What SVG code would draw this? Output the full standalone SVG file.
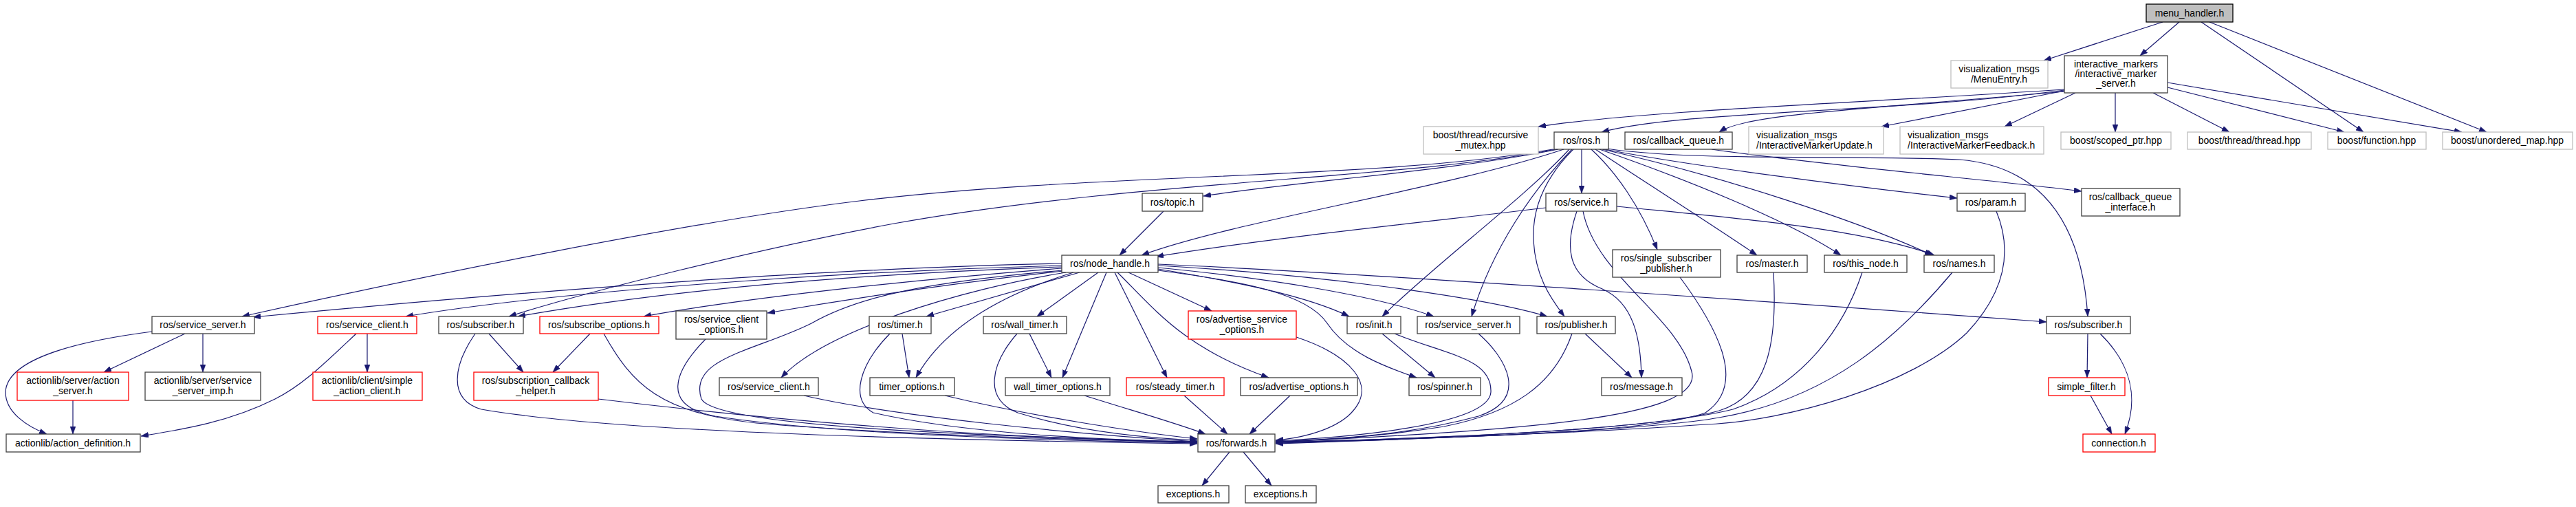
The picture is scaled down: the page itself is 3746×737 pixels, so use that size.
<svg xmlns="http://www.w3.org/2000/svg" width="3746" height="737" viewBox="0 0 3746 737">
<style>
text{font-family:"Liberation Sans",Arial,sans-serif;font-size:14px;fill:#000;text-anchor:middle}
text.l{text-anchor:start}
rect{fill:#fff;stroke-width:1.3}
.k rect{stroke:#404040}
.g rect{stroke:#bfbfbf}
.r rect{stroke:#ff0000}
.root rect{fill:#bfbfbf;stroke:#000}
#edges path{fill:none;stroke:#191970;stroke-width:1.2;marker-end:url(#ah)}
</style>
<defs>
<marker id="ah" viewBox="0 0 11 8" refX="11" refY="4" markerWidth="11" markerHeight="8" orient="auto" markerUnits="userSpaceOnUse"><path d="M0,0L11,4L0,8z" fill="#191970" stroke="#191970" stroke-width="0.5"/></marker>
</defs>
<rect x="0" y="0" width="3746" height="737" style="fill:#fff;stroke:none"/>
<g id="edges">
<path d="M3145,32 L2972,88"/>
<path d="M3169,32 L3112,81"/>
<path d="M3201,32 L3437,192"/>
<path d="M3213,32 L3616,192"/>
<path d="M3131,135 L3242,192"/>
<path d="M3152,127 L3409,192"/>
<path d="M3152,120 L3580,192"/>
<path d="M3076,135 L3076,192"/>
<path d="M3018,135 L2915,184"/>
<path d="M3002,132 L2736,184"/>
<path d="M3002,131 C2750,165 2450,160 2329,192"/>
<path d="M3002,130 C2700,150 2400,160 2237,184"/>
<path d="M3002,133 C2700,160 2540,165 2500,192"/>
<path d="M2489,217 C2650,240 2900,262 3027,278"/>
<path d="M2300,217 L2300,281"/>
<path d="M2266,217 C2100,250 1900,262 1750,285"/>
<path d="M2274,217 C2100,275 1800,320 1660,371"/>
<path d="M2258,217 C2000,262 1600,250 1250,292 C1000,322 600,405 352,460"/>
<path d="M2262,217 C2050,260 1650,262 1300,325 C1100,362 850,425 740,460"/>
<path d="M2282,217 C2220,285 2080,390 2010,460"/>
<path d="M2286,217 C2230,275 2170,360 2140,460"/>
<path d="M2288,217 C2240,265 2228,310 2230,350 C2233,400 2252,430 2275,460"/>
<path d="M2314,217 C2350,250 2385,300 2410,363"/>
<path d="M2320,217 C2400,270 2480,320 2555,371"/>
<path d="M2326,217 C2450,260 2600,320 2677,371"/>
<path d="M2330,217 C2500,255 2700,320 2810,371"/>
<path d="M2334,217 C2450,240 2700,272 2846,288"/>
<path d="M2330,215 C2450,235 2700,225 2850,232 C3000,245 3030,370 3036,460"/>
<path d="M2248,302 C2100,320 1850,345 1681,373"/>
<path d="M2351,300 C2500,315 2700,330 2813,371"/>
<path d="M2293,307 C2275,360 2280,400 2330,420 C2375,440 2386,490 2387,549"/>
<path d="M2302,307 C2320,400 2440,460 2460,540 C2480,610 2200,625 1855,643"/>
<path d="M1692,307 L1628,371"/>
<path d="M2443,403 C2500,480 2540,560 2480,600 C2400,630 2100,637 1855,643"/>
<path d="M2579,396 C2585,500 2570,575 2500,597 C2400,625 2100,637 1855,643"/>
<path d="M2708,396 C2680,480 2620,560 2520,595 C2400,625 2100,637 1855,643"/>
<path d="M2839,396 C2760,490 2660,580 2500,607 C2400,625 2100,638 1855,644"/>
<path d="M2903,307 C2925,360 2920,420 2860,484 C2780,560 2600,612 2480,617 C2300,630 2000,640 1855,645"/>
<path d="M2010,485 L2087,549"/>
<path d="M2028,485 C2100,515 2170,520 2168,570 C2165,620 1950,636 1855,641"/>
<path d="M2150,485 C2190,520 2225,580 2150,605 C2050,632 1950,638 1855,642"/>
<path d="M2286,485 C2260,560 2200,600 2100,620 C2000,636 1900,641 1855,642"/>
<path d="M2305,485 L2373,549"/>
<path d="M1885,490 C1960,515 2010,560 1960,605 C1930,630 1880,638 1855,640"/>
<path d="M1570,396 L1347,460"/>
<path d="M1561,396 C1450,430 1370,480 1332,549"/>
<path d="M1597,396 L1508,460"/>
<path d="M1609,396 L1545,549"/>
<path d="M1621,396 L1697,549"/>
<path d="M1625,396 C1680,450 1720,505 1845,549"/>
<path d="M1641,396 L1762,452"/>
<path d="M1684,391 C1800,410 1900,430 1962,460"/>
<path d="M1684,389 C1850,405 2000,430 2085,460"/>
<path d="M1684,386 C1900,398 2150,430 2250,460"/>
<path d="M1684,393 C1800,408 1900,425 1930,470 C1960,515 2020,535 2060,549"/>
<path d="M1684,384 C2000,398 2600,440 2976,468"/>
<path d="M1544,383 C1200,390 800,420 368,461"/>
<path d="M1544,386 C1200,395 800,425 590,460"/>
<path d="M1544,388 C1200,400 950,425 753,460"/>
<path d="M1544,390 C1350,405 1100,430 936,460"/>
<path d="M1546,394 C1400,410 1250,432 1116,455"/>
<path d="M1550,396 C1400,420 1200,480 1136,549"/>
<path d="M1545,393 C1350,410 1250,430 1180,470 C1100,510 1000,520 1020,580 C1040,620 1400,632 1741,643"/>
<path d="M691,485 C660,530 650,580 700,595 C900,630 1400,640 1741,645"/>
<path d="M711,485 L761,541"/>
<path d="M858,485 L804,541"/>
<path d="M878,485 C920,560 960,600 1100,615 C1300,632 1600,640 1741,643"/>
<path d="M870,580 C1200,620 1500,638 1741,643"/>
<path d="M1026,493 C980,540 960,590 1040,605 C1200,630 1500,640 1741,644"/>
<path d="M1169,575 C1300,605 1550,630 1741,642"/>
<path d="M1312,485 L1322,549"/>
<path d="M1294,485 C1250,530 1235,580 1270,600 C1400,630 1600,640 1741,642"/>
<path d="M1497,485 L1529,549"/>
<path d="M1479,485 C1440,530 1430,580 1480,600 C1560,625 1650,636 1741,640"/>
<path d="M1374,575 C1500,605 1650,628 1741,638"/>
<path d="M1577,575 C1650,598 1710,615 1753,631"/>
<path d="M1722,575 L1785,631"/>
<path d="M1876,575 L1817,631"/>
<path d="M1788,657 L1748,706"/>
<path d="M1808,657 L1849,706"/>
<path d="M269,485 L151,541"/>
<path d="M295,485 L295,541"/>
<path d="M221,482 C120,495 10,520 8,570 C8,600 40,620 68,631"/>
<path d="M518,485 C470,530 440,560 400,580 C330,615 260,625 205,634"/>
<path d="M534,485 L534,541"/>
<path d="M106,582 L106,631"/>
<path d="M3036,485 L3035,549"/>
<path d="M3054,485 C3100,530 3110,580 3090,631"/>
<path d="M3040,575 L3071,631"/>
</g>
<g id="n0" class="root"><rect x="3121" y="6" width="126" height="26"/><text x="3184" y="24">menu_handler.h</text></g>
<g id="n1" class="k"><rect x="3002" y="81" width="150" height="54"/><text x="3077" y="98">interactive_markers</text><text x="3077" y="112">/interactive_marker</text><text x="3077" y="126">_server.h</text></g>
<g id="n2" class="g"><rect x="2837" y="88" width="141" height="40"/><text x="2907" y="105">visualization_msgs</text><text x="2907" y="120">/MenuEntry.h</text></g>
<g id="n3" class="g"><rect x="2070" y="184" width="167" height="40"/><text x="2153" y="201">boost/thread/recursive</text><text x="2153" y="216">_mutex.hpp</text></g>
<g id="n4" class="k"><rect x="2260" y="192" width="79" height="25"/><text x="2300" y="209">ros/ros.h</text></g>
<g id="n5" class="k"><rect x="2363" y="192" width="156" height="25"/><text x="2441" y="209">ros/callback_queue.h</text></g>
<g id="n6" class="g"><rect x="2543" y="184" width="196" height="40"/><text class="l" x="2554" y="201">visualization_msgs</text><text class="l" x="2554" y="216">/InteractiveMarkerUpdate.h</text></g>
<g id="n7" class="g"><rect x="2763" y="184" width="209" height="40"/><text class="l" x="2774" y="201">visualization_msgs</text><text class="l" x="2774" y="216">/InteractiveMarkerFeedback.h</text></g>
<g id="n8" class="g"><rect x="2997" y="192" width="160" height="25"/><text x="3077" y="209">boost/scoped_ptr.hpp</text></g>
<g id="n9" class="g"><rect x="3181" y="192" width="180" height="25"/><text x="3271" y="209">boost/thread/thread.hpp</text></g>
<g id="n10" class="g"><rect x="3385" y="192" width="143" height="25"/><text x="3456" y="209">boost/function.hpp</text></g>
<g id="n11" class="g"><rect x="3552" y="192" width="189" height="25"/><text x="3646" y="209">boost/unordered_map.hpp</text></g>
<g id="n12" class="k"><rect x="1661" y="281" width="88" height="26"/><text x="1705" y="299">ros/topic.h</text></g>
<g id="n13" class="k"><rect x="2248" y="281" width="103" height="26"/><text x="2300" y="299">ros/service.h</text></g>
<g id="n14" class="k"><rect x="2846" y="281" width="99" height="26"/><text x="2895" y="299">ros/param.h</text></g>
<g id="n15" class="k"><rect x="3027" y="274" width="143" height="40"/><text x="3098" y="291">ros/callback_queue</text><text x="3098" y="306">_interface.h</text></g>
<g id="n16" class="k"><rect x="1544" y="371" width="140" height="25"/><text x="1614" y="388">ros/node_handle.h</text></g>
<g id="n17" class="k"><rect x="2345" y="363" width="157" height="40"/><text x="2423" y="380">ros/single_subscriber</text><text x="2423" y="395">_publisher.h</text></g>
<g id="n18" class="k"><rect x="2526" y="371" width="102" height="25"/><text x="2577" y="388">ros/master.h</text></g>
<g id="n19" class="k"><rect x="2653" y="371" width="120" height="25"/><text x="2713" y="388">ros/this_node.h</text></g>
<g id="n20" class="k"><rect x="2798" y="371" width="102" height="25"/><text x="2849" y="388">ros/names.h</text></g>
<g id="n21" class="k"><rect x="221" y="460" width="149" height="25"/><text x="295" y="477">ros/service_server.h</text></g>
<g id="n22" class="r"><rect x="462" y="460" width="144" height="25"/><text x="534" y="477">ros/service_client.h</text></g>
<g id="n23" class="k"><rect x="638" y="460" width="123" height="25"/><text x="699" y="477">ros/subscriber.h</text></g>
<g id="n24" class="r"><rect x="785" y="460" width="173" height="25"/><text x="871" y="477">ros/subscribe_options.h</text></g>
<g id="n25" class="k"><rect x="983" y="452" width="132" height="41"/><text x="1049" y="469">ros/service_client</text><text x="1049" y="484">_options.h</text></g>
<g id="n26" class="k"><rect x="1264" y="460" width="90" height="25"/><text x="1309" y="477">ros/timer.h</text></g>
<g id="n27" class="k"><rect x="1430" y="460" width="121" height="25"/><text x="1490" y="477">ros/wall_timer.h</text></g>
<g id="n28" class="r"><rect x="1728" y="452" width="157" height="41"/><text x="1806" y="469">ros/advertise_service</text><text x="1806" y="484">_options.h</text></g>
<g id="n29" class="k"><rect x="1959" y="460" width="78" height="25"/><text x="1998" y="477">ros/init.h</text></g>
<g id="n30" class="k"><rect x="2061" y="460" width="149" height="25"/><text x="2135" y="477">ros/service_server.h</text></g>
<g id="n31" class="k"><rect x="2235" y="460" width="114" height="25"/><text x="2292" y="477">ros/publisher.h</text></g>
<g id="n32" class="k"><rect x="2976" y="460" width="122" height="25"/><text x="3037" y="477">ros/subscriber.h</text></g>
<g id="n33" class="r"><rect x="25" y="541" width="162" height="41"/><text x="106" y="558">actionlib/server/action</text><text x="106" y="573">_server.h</text></g>
<g id="n34" class="k"><rect x="211" y="541" width="168" height="41"/><text x="295" y="558">actionlib/server/service</text><text x="295" y="573">_server_imp.h</text></g>
<g id="n35" class="r"><rect x="455" y="541" width="159" height="41"/><text x="534" y="558">actionlib/client/simple</text><text x="534" y="573">_action_client.h</text></g>
<g id="n36" class="r"><rect x="689" y="541" width="181" height="41"/><text x="779" y="558">ros/subscription_callback</text><text x="779" y="573">_helper.h</text></g>
<g id="n37" class="k"><rect x="1046" y="549" width="144" height="26"/><text x="1118" y="567">ros/service_client.h</text></g>
<g id="n38" class="k"><rect x="1265" y="549" width="123" height="26"/><text x="1326" y="567">timer_options.h</text></g>
<g id="n39" class="k"><rect x="1462" y="549" width="152" height="26"/><text x="1538" y="567">wall_timer_options.h</text></g>
<g id="n40" class="r"><rect x="1638" y="549" width="142" height="26"/><text x="1709" y="567">ros/steady_timer.h</text></g>
<g id="n41" class="k"><rect x="1804" y="549" width="170" height="26"/><text x="1889" y="567">ros/advertise_options.h</text></g>
<g id="n42" class="k"><rect x="2049" y="549" width="104" height="26"/><text x="2101" y="567">ros/spinner.h</text></g>
<g id="n43" class="k"><rect x="2329" y="549" width="117" height="26"/><text x="2387" y="567">ros/message.h</text></g>
<g id="n44" class="r"><rect x="2979" y="549" width="111" height="26"/><text x="3034" y="567">simple_filter.h</text></g>
<g id="n45" class="k"><rect x="9" y="631" width="195" height="26"/><text x="106" y="649">actionlib/action_definition.h</text></g>
<g id="n46" class="k"><rect x="1742" y="631" width="112" height="26"/><text x="1798" y="649">ros/forwards.h</text></g>
<g id="n47" class="r"><rect x="3029" y="631" width="105" height="26"/><text x="3081" y="649">connection.h</text></g>
<g id="n48" class="k"><rect x="1684" y="706" width="103" height="25"/><text x="1735" y="723">exceptions.h</text></g>
<g id="n49" class="k"><rect x="1811" y="706" width="103" height="25"/><text x="1862" y="723">exceptions.h</text></g>
</svg>
